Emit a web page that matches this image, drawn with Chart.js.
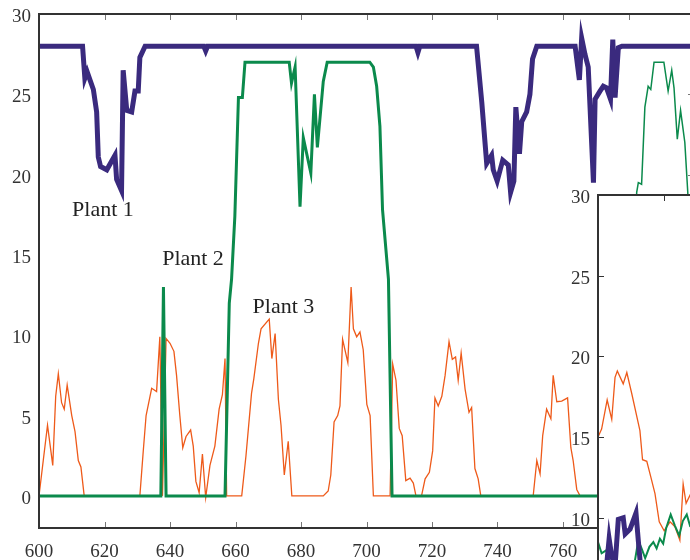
<!DOCTYPE html>
<html>
<head>
<meta charset="utf-8">
<script src="https://cdn.jsdelivr.net/npm/chart.js@4.4.1/dist/chart.umd.min.js"></script>
<style>
body { margin: 0; background: #fff; overflow: hidden; }
#wrap { position: relative; width: 690px; height: 560px; overflow: hidden; background: #fff; }
#mainChart { position: absolute; left: 0; top: 0; }
#insetChart { position: absolute; left: 548px; top: 181px; }
</style>
</head>
<body>
<div id="wrap">
    <canvas id="mainChart" width="700" height="560"></canvas>
    <canvas id="insetChart" width="181" height="425"></canvas>
</div>
<script>
// main plot
var Plant1X = [600, 613.3, 614, 614.7, 616.6, 617.6, 618.1, 618.8, 620.7, 623.2,
    623.7, 625.2, 625.7, 626.8, 628.3, 629.3, 630.3, 630.8, 632.4, 650.3,
    650.9, 651.5, 715.1, 715.7, 716.3, 733.6, 735.2, 736.7, 738.2, 738.7,
    739.9, 741.6, 743.3, 744, 745, 745.6, 746.7, 747.4, 748.9, 749.9,
    750.7, 752, 763.7, 765, 765.7, 766.7, 767.7, 769.3, 769.8, 771.3,
    772.3, 773.3, 774.5, 775.2, 775.9, 776.9, 778, 800]
var Plant1Y = [28, 28, 26, 26.4, 25.3, 23.9, 21.1, 20.5, 20.3, 21.2,
    19.7, 19.0, 26.5, 24.0, 23.9, 25.2, 25.2, 27.3, 28, 28,
    27.7, 28, 28, 27.6, 28, 28, 24.5, 20.7, 21.2, 20.3,
    19.6, 20.9, 20.6, 18.9, 19.6, 24.2, 21.3, 23.3, 23.9, 25.0,
    27.2, 28, 28, 25.9, 28.5, 27.5, 26.7, 19.5, 24.7, 25.2,
    25.5, 25.4, 24.7, 28.4, 24.8, 27.9, 28, 28]

var Plant2X = [600, 637.2, 638, 638.8, 656.8, 658.1, 658.8, 659.8, 660.9, 662.1,
    662.9, 676.4, 677.1, 678.2, 679.7, 680.7, 683, 684.1, 685, 686.8,
    688, 701, 702.1, 703.1, 704.1, 704.9, 706.7, 707.8, 775]
var Plant2Y = [0, 0, 13, 0, 0, 12, 13.5, 17.4, 24.8, 24.8,
    27, 27, 25.7, 26.7, 18.0, 22.3, 20.1, 25.0, 21.7, 25.8,
    27, 27, 26.7, 25.5, 23, 17.8, 13.5, 0, 0]

// thin green piece at the right, above the inset
var Plant2bX = [781.5, 782.5, 783, 784, 785, 786, 786.8, 787.8, 790.8, 792.1,
    793.2, 793.9, 794.9, 795.9, 797.2, 798.1, 799]
var Plant2bY = [10, 18.9, 19.5, 19.4, 24.2, 25.5, 25.3, 27, 27, 25.2,
    26.5, 25.4, 22.2, 24, 22, 18.9, 12]

var Plant3X = [600, 601.3, 602.6, 604.2, 605.1, 605.9, 606.9, 607.7, 608.6, 610,
    611, 612, 612.8, 613.8, 630.8, 631.8, 632.7, 634.4, 635.9, 636.9,
    637.7, 638.8, 640, 641.2, 642, 643, 643.9, 644.9, 646.3, 647.1,
    647.9, 648.9, 649.9, 650.9, 652.2, 653.7, 655, 656, 656.8, 657.3,
    661.9, 663.2, 664.9, 665.6, 667, 667.8, 670.3, 671.1, 672.1, 673.1,
    673.9, 674.9, 676.1, 677.2, 686.8, 688.3, 689.1, 690.1, 691.2, 691.9,
    692.7, 694.3, 695.3, 696, 697, 698, 699, 700.1, 701.1, 702.1,
    707.2, 708, 709, 710, 710.9, 712, 713.3, 714.3, 715.1, 716.8,
    717.9, 719.2, 720.2, 720.9, 721.9, 723, 724, 725.2, 726.2, 727.2,
    728, 728.9, 730.1, 731.3, 732.1, 733.1, 734.1, 734.9, 750.9, 752,
    753, 753.8, 755, 756.3, 757, 758.1, 759.6, 761.4, 762.4, 763.1,
    764.2, 765.2, 780]
var Plant3Y = [0, 2.2, 4.4, 1.9, 6.2, 7.6, 5.8, 5.4, 6.9, 5.0,
    4.0, 2.2, 1.8, 0, 0, 2.7, 5.0, 6.7, 6.5, 9.9,
    0, 9.8, 9.5, 9.0, 7.5, 5.0, 3.0, 3.7, 4.1, 3.1,
    0.9, 0.2, 2.6, -0.1, 1.9, 3.1, 5.4, 6.3, 8.55, 0,
    0, 2.5, 6.4, 7.3, 9.5, 10.4, 11.0, 8.55, 10.1, 6.0,
    4.4, 1.3, 3.4, 0, 0, 0.3, 1.3, 4.6, 5.0, 5.6,
    9.75, 8.3, 13.0, 10.4, 9.9, 10.2, 9.1, 5.7, 5.0, 0,
    0, 8.2, 7.2, 4.2, 3.75, 0.95, 1.1, 0.8, 0, 0,
    1.06, 1.47, 2.8, 6.1, 5.6, 6.2, 7.5, 9.6, 8.5, 8.65,
    7.2, 8.9, 6.65, 5.2, 5.5, 1.7, 1.06, 0, 0, 2.2,
    1.37, 3.75, 5.4, 4.8, 7.5, 5.86, 5.9, 6.1, 3.0, 2.2,
    0.4, 0, 0]

// inset plot
var InsetPlant1X = [2.6, 3.4, 4.2, 5.2, 6.2, 7.7, 8.3, 9.8, 11.6, 12.3, 13]
var InsetPlant1Y = [7.0, 8.7, 7.6, 7.0, 9.9, 10.0, 9.0, 9.3, 10.3, 8.6, 7.0]
var InsetPlant2X = [0, 1.1, 2.6, 3.6, 5, 11, 12.3, 13.3, 14.4, 15.7,
    16.9, 17.9, 18.9, 19.9, 20.8, 22.2, 23.5, 24.8, 25.9, 27.1, 28.1, 29]
var InsetPlant2Y = [8.5, 7.8, 8.0, 7.2, 6.8, 7.0, 8.6, 8.1, 7.5, 8.2,
    8.5, 8.1, 8.7, 8.4, 9.35, 10.2, 9.5, 8.9, 9.8, 10.2, 9.5, 9.6]
var InsetPlant3X = [0, 1.1, 2.8, 4.2, 5.2, 5.9, 7.7, 8.8, 10.3, 12.8,
    13.6, 14.9, 16.1, 17.4, 18.7, 20.2, 22, 23.5, 25, 26, 26.9, 28.1, 29]
var InsetPlant3Y = [15.0, 15.5, 17.3, 16.1, 18.7, 19.1, 18.3, 19.0, 17.7, 15.4,
    13.6, 13.5, 12.55, 11.5, 9.75, 9.2, 9.75, 9.45, 8.6, 12.1, 10.9, 11.4, 11.2]

var LabelText = ['Plant 1', 'Plant 2', 'Plant 3']
var LabelAtX = [610.1, 637.6, 665.2]
var LabelAtY = [17.4, 14.35, 11.4]

var ColorPlant1 = '#3a2a7e'
var ColorPlant2 = '#0b8a4c'
var ColorPlant3 = '#ee5a1a'
var SerifFamily = '"Liberation Serif", "Times New Roman", serif'

function toPoints(xs, ys) {
    return xs.map(function (x, i) { return { x: x, y: ys[i] } })
}

function lineSet(label, xs, ys, color, width) {
    return {
        label: label,
        data: toPoints(xs, ys),
        borderColor: color,
        backgroundColor: color,
        borderWidth: width,
        pointRadius: 0,
        tension: 0,
        fill: false,
        borderJoinStyle: 'miter',
    }
}

// keep the plot box exactly where the margins say
function fixWidth(w) {
    return function (scale) {
        scale.width = w
        scale.paddingTop = 0
        scale.paddingBottom = 0
        scale.paddingLeft = 0
        scale.paddingRight = 0
    }
}
function fixHeight(h) {
    return function (scale) {
        scale.height = h
        scale.paddingTop = 0
        scale.paddingBottom = 0
        scale.paddingLeft = 0
        scale.paddingRight = 0
    }
}

// white box, inward tick marks, frame and text labels
var framePlugin = {
    id: 'frame',
    beforeDraw: function (chart, args, opts) {
        if (!opts.whiteBox) return
        var a = chart.chartArea
        var ctx = chart.ctx
        ctx.save()
        ctx.fillStyle = '#ffffff'
        ctx.fillRect(a.left, a.top, a.right - a.left, a.bottom - a.top)
        ctx.restore()
    },
    afterDraw: function (chart, args, opts) {
        var a = chart.chartArea
        var ctx = chart.ctx
        var xs = chart.scales.x
        var ys = chart.scales.y
        ctx.save()
        ctx.lineWidth = 1
        ctx.strokeStyle = opts.tickColor
        ctx.beginPath()
        xs.ticks.forEach(function (t) {
            var px = Math.round(xs.getPixelForValue(t.value)) + 0.5
            if (px <= a.left + 2 || px >= a.right - 2) return
            ctx.moveTo(px, a.top)
            ctx.lineTo(px, a.top + 6)
            ctx.moveTo(px, a.bottom)
            ctx.lineTo(px, a.bottom - 6)
        })
        ys.ticks.forEach(function (t) {
            var py = Math.round(ys.getPixelForValue(t.value)) + 0.5
            if (py <= a.top + 2 || py >= a.bottom - 2) return
            if (opts.leftTicks) {
                ctx.moveTo(a.left, py)
                ctx.lineTo(a.left + 6, py)
            }
            ctx.moveTo(a.right, py)
            ctx.lineTo(a.right - 6, py)
        })
        ctx.stroke()

        ctx.strokeStyle = '#333333'
        ctx.lineWidth = 2
        ctx.strokeRect(a.left, a.top, a.right - a.left, a.bottom - a.top)

        ctx.fillStyle = '#222222'
        ctx.font = '22px ' + SerifFamily
        ctx.textAlign = 'left'
        ctx.textBaseline = 'alphabetic'
        ;(opts.texts || []).forEach(function (txt, i) {
            ctx.fillText(txt, xs.getPixelForValue(opts.textX[i]), ys.getPixelForValue(opts.textY[i]))
        })
        ctx.restore()
    }
}

var tickFont = { family: SerifFamily, size: 19 }

var config_Main = {
    type: 'line',
    data: {
        datasets: [
            lineSet('Plant 1', Plant1X, Plant1Y, ColorPlant1, 5),
            lineSet('Plant 2', Plant2X, Plant2Y, ColorPlant2, 3),
            lineSet('Plant 2 (cont.)', Plant2bX, Plant2bY, ColorPlant2, 1.5),
            lineSet('Plant 3', Plant3X, Plant3Y, ColorPlant3, 1.3),
        ],
    },
    plugins: [framePlugin],
    options: {
        responsive: false,
        animation: false,
        devicePixelRatio: 1,
        layout: {
            autoPadding: false,
            padding: { top: 14, right: 6, left: 0, bottom: 0 }
        },
        plugins: {
            legend: { display: false },
            tooltip: { enabled: false },
            frame: {
                tickColor: '#777777',
                leftTicks: false,
                texts: LabelText,
                textX: LabelAtX,
                textY: LabelAtY,
            },
        },
        scales: {
            x: {
                type: 'linear',
                min: 600,
                max: 800,
                grid: { display: false },
                border: { display: false },
                ticks: {
                    stepSize: 20,
                    maxRotation: 0,
                    autoSkip: false,
                    padding: 5,
                    color: '#333333',
                    font: tickFont,
                },
                afterFit: fixHeight(32),
            },
            y: {
                min: -2,
                max: 30,
                grid: { display: false },
                border: { display: false },
                ticks: {
                    stepSize: 5,
                    includeBounds: false,
                    padding: 0,
                    labelOffset: 3,
                    color: '#333333',
                    font: tickFont,
                },
                afterFit: fixWidth(39),
            },
        },
    },
}

var config_Inset = {
    type: 'line',
    data: {
        datasets: [
            lineSet('Plant 1', InsetPlant1X, InsetPlant1Y, ColorPlant1, 5),
            lineSet('Plant 2', InsetPlant2X, InsetPlant2Y, ColorPlant2, 2),
            lineSet('Plant 3', InsetPlant3X, InsetPlant3Y, ColorPlant3, 1.3),
        ],
    },
    plugins: [framePlugin],
    options: {
        responsive: false,
        animation: false,
        devicePixelRatio: 1,
        layout: {
            autoPadding: false,
            padding: { top: 14, right: 0, left: 0, bottom: 7.5 }
        },
        plugins: {
            legend: { display: false },
            tooltip: { enabled: false },
            frame: {
                whiteBox: true,
                tickColor: '#333333',
                leftTicks: true,
            },
        },
        scales: {
            x: {
                type: 'linear',
                min: 0,
                max: 40,
                display: false,
                ticks: { stepSize: 20 },
            },
            y: {
                min: 5,
                max: 30,
                grid: { display: false },
                border: { display: false },
                ticks: {
                    stepSize: 5,
                    includeBounds: false,
                    padding: 0,
                    labelOffset: 3,
                    color: '#333333',
                    font: tickFont,
                },
                afterFit: fixWidth(50),
            },
        },
    },
}

new Chart(document.getElementById('mainChart').getContext('2d'), config_Main)
new Chart(document.getElementById('insetChart').getContext('2d'), config_Inset)
</script>
</body>
</html>
